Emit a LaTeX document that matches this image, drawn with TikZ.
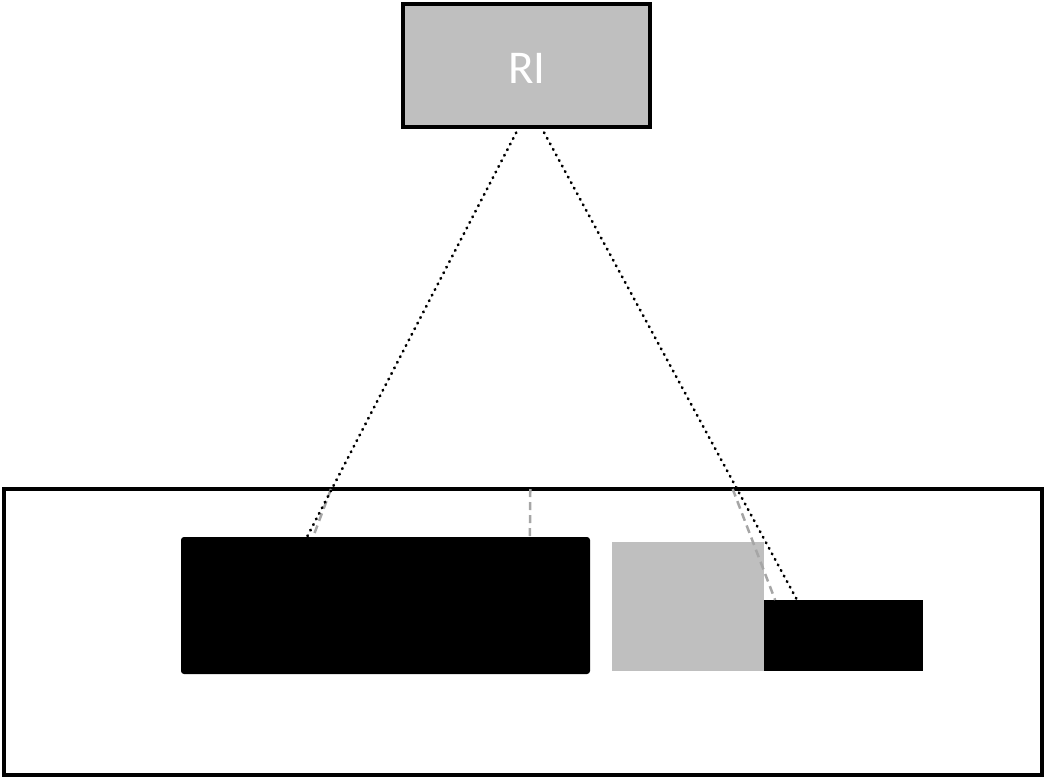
\documentclass[tikz,border=0pt]{standalone}
\usepackage{fontspec}
\setmainfont{Carlito}
\usetikzlibrary{calc}

\definecolor{lightgray}{HTML}{BFBFBF}
\definecolor{guidegray}{HTML}{A6A6A6}

\tikzset{
    block/.style={inner sep=0pt, outer sep=0pt, minimum width=#1},
    sight/.style={line width=2.8pt, dash pattern=on 0.6pt off 5.7pt, line cap=round},
    guide/.style={guidegray, line width=2.5pt, dash pattern=on 8pt off 5pt}
}

\begin{document}
\begin{tikzpicture}[x=1pt, y=-1pt]
    \useasboundingbox (0,0) rectangle (1046,779);

    % Source box
    \node[block=247pt, minimum height=123pt, draw, line width=4pt, fill=lightgray] (RI) at (526.5,65.5) {};
    \node[text=white, font=\fontsize{47}{50}\selectfont, inner sep=0pt] (RIlabel) at (527,68) {RI};

    % Outer frame
    \node[block=1038pt, minimum height=286pt, draw, line width=3.5pt] (frame) at (523,632) {};

    % Blocks inside the frame
    \node[block=409pt, minimum height=137pt, fill=black, rounded corners=3pt] (left) at (385.5,605.5) {};
    \node[block=152pt, minimum height=129pt, fill=lightgray] (mid) at (688,606.5) {};
    \node[block=159pt, minimum height=71pt, fill=black] (right) at (843.5,635.5) {};

    % Guide lines
    \coordinate (gl) at ($(frame.north west)!0.315!(frame.north east)$);
    \coordinate (gc) at ($(frame.north west)!0.507!(frame.north east)$);
    \coordinate (gr) at ($(frame.north west)!0.702!(frame.north east)$);
    \draw[guide] (gl) -- ($(left.north west)!0.323!(left.north east)$);
    \draw[guide] (gc) -- ($(left.north west)!0.853!(left.north east)$);
    \draw[guide] (gr) -- ($(right.north west)!0.07!(right.north east)$);

    % Lines of sight
    \draw[sight] ($(RI.south west)!0.47!(RI.south east)$) -- ($(left.north west)!0.308!(left.north east)$);
    \draw[sight] ($(RI.south west)!0.559!(RI.south east)$) -- ($(right.north west)!0.208!(right.north east)$);
\end{tikzpicture}
\end{document}
